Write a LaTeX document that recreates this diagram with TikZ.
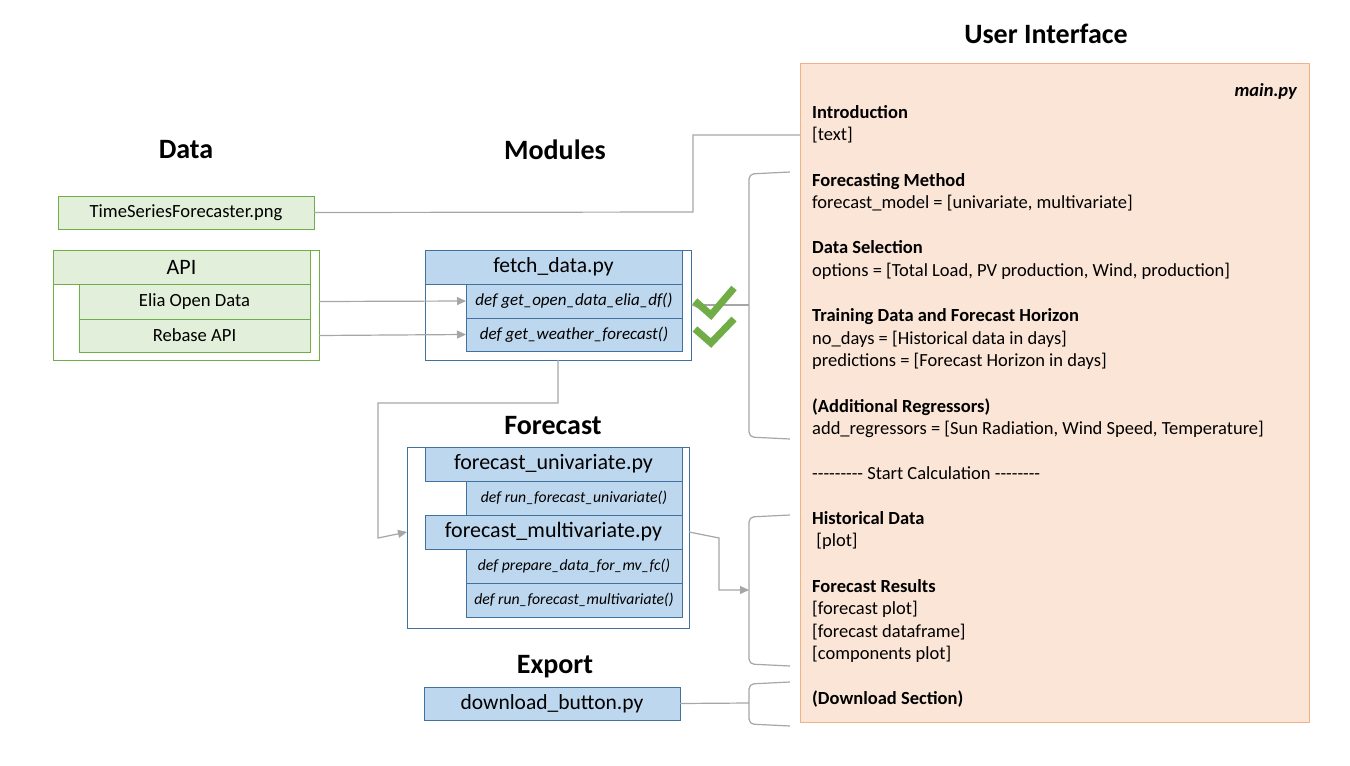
\documentclass[tikz,border=0pt]{standalone}
\usepackage{fontspec}
\setmainfont{Carlito}
\usetikzlibrary{arrows.meta,calc}
\definecolor{gfill}{HTML}{E2EFDA}
\definecolor{gline}{HTML}{70AD47}
\definecolor{bfill}{HTML}{BDD7EE}
\definecolor{bline}{HTML}{41719C}
\definecolor{ofill}{HTML}{FBE5D6}
\definecolor{oline}{HTML}{F4B183}
\definecolor{conncol}{HTML}{A6A6A6}
\definecolor{checkcol}{HTML}{70AD47}
\newcommand{\dashes}[1]{\foreach \i in {1,...,#1}{-\kern0pt}}
\begin{document}
\begin{tikzpicture}[x=1pt,y=-1pt,
  base/.style={inner sep=0pt, outer sep=0pt, anchor=north west, line width=1pt, align=center},
  gbox/.style={base, draw=gline, fill=gfill},
  gframe/.style={base, draw=gline},
  bbox/.style={base, draw=bline, fill=bfill},
  bframe/.style={base, draw=bline},
  uibox/.style={base, draw=oline, fill=ofill},
  title/.style={anchor=base, inner sep=0pt, font=\fontsize{28}{32}\selectfont\bfseries},
  uitext/.style={anchor=base west, inner sep=0pt, font=\fontsize{18.5}{22}\selectfont},
  uihead/.style={uitext, font=\fontsize{18.5}{22}\selectfont\bfseries},
  conn/.style={draw=conncol, line width=1.2pt},
  arr/.style={-{Triangle[length=9pt,width=8pt]}},
  brk/.style={draw=conncol, line width=1.2pt, rounded corners=5pt},
  checkmark/.style={draw=checkcol, line width=7pt}
]
\useasboundingbox (0,0) rectangle (1350,766);

% titles
\node[title] (tUI) at (1046,43) {User Interface};
\node[title] (tData) at (186,158) {Data};
\node[title] (tMod) at (555,159) {Modules};
\node[title] (tFc) at (553,434) {Forecast};
\node[title] (tEx) at (555,673) {Export};

% data
\node[gbox, minimum width=256, minimum height=33, font=\fontsize{18.6}{22}\selectfont] (tsf) at (58,196) {TimeSeriesForecaster.png};
\node[gframe, minimum width=266, minimum height=110] (apiframe) at (53,250) {};
\node[gbox, minimum width=257, minimum height=34, font=\fontsize{22}{26}\selectfont] (api) at (53,250) {API};
\node[gbox, minimum width=231, minimum height=35, font=\fontsize{18.6}{22}\selectfont] (elia) at (79,284) {Elia Open Data};
\node[gbox, minimum width=231, minimum height=33, font=\fontsize{18.6}{22}\selectfont] (rebase) at (79,319) {Rebase API};

% modules
\node[bframe, minimum width=266, minimum height=110] (fetchframe) at (425,250) {};
\node[bbox, minimum width=257, minimum height=34, font=\fontsize{21.6}{26}\selectfont] (fetch) at (425,250) {fetch\_data.py};
\node[bbox, minimum width=216, minimum height=34, font=\fontsize{17}{20}\selectfont\itshape] (getelia) at (466,284) {def get\_open\_data\_elia\_df()};
\node[bbox, minimum width=216, minimum height=33, font=\fontsize{17}{20}\selectfont\itshape] (getweather) at (466,318) {def get\_weather\_forecast()};

% forecast
\node[bframe, minimum width=282, minimum height=181] (fcframe) at (407,447) {};
\node[bbox, minimum width=257, minimum height=34, font=\fontsize{22}{26}\selectfont] (funi) at (425,447) {forecast\_univariate.py};
\node[bbox, minimum width=216, minimum height=34, font=\fontsize{15.7}{18}\selectfont\itshape] (rununi) at (466,481) {def run\_forecast\_univariate()};
\node[bbox, minimum width=257, minimum height=34, font=\fontsize{22}{26}\selectfont] (fmv) at (425,515) {forecast\_multivariate.py};
\node[bbox, minimum width=216, minimum height=34, font=\fontsize{15.7}{18}\selectfont\itshape] (prep) at (466,549) {def prepare\_data\_for\_mv\_fc()};
\node[bbox, minimum width=216, minimum height=34, font=\fontsize{15.7}{18}\selectfont\itshape] (runmv) at (466,583) {def run\_forecast\_multivariate()};

% export
\node[bbox, minimum width=256, minimum height=33, font=\fontsize{21.5}{25}\selectfont] (dl) at (424,687) {download\_button.py};

% user interface panel
\node[uibox, minimum width=509, minimum height=659] (ui) at (800,63) {};
\node[anchor=base east, inner sep=0pt, font=\fontsize{18.5}{22}\selectfont\bfseries\itshape] (mainpy) at (1297,96) {main.py};
\node[uihead] (l1) at (812,118) {Introduction};
\node[uitext] (l2) at (812,140) {[text]};
\node[uihead] (l3) at (812,186) {Forecasting Method};
\node[uitext] (l4) at (812,208) {forecast\_model = [univariate, multivariate]};
\node[uihead] (l5) at (812,253) {Data Selection};
\node[uitext] (l6) at (812,276) {options = [Total Load, PV production, Wind, production]};
\node[uihead] (l7) at (812,321) {Training Data and Forecast Horizon};
\node[uitext] (l8) at (812,344) {no\_days = [Historical data in days]};
\node[uitext] (l9) at (812,366) {predictions = [Forecast Horizon in days]};
\node[uihead] (l10) at (812,412) {(Additional Regressors)};
\node[uitext] (l11) at (812,434) {add\_regressors = [Sun Radiation, Wind Speed, Temperature]};
\node[uitext] (l12) at (812,479) {{-}{-}{-}{-}{-}{-}{-}{-}{-} Start Calculation {-}{-}{-}{-}{-}{-}{-}{-}};
\node[uihead] (l13) at (812,524) {Historical Data};
\node[uitext] (l14) at (812,546) {\ [plot]};
\node[uihead] (l15) at (812,592) {Forecast Results};
\node[uitext] (l16) at (812,614) {[forecast plot]};
\node[uitext] (l17) at (812,637) {[forecast dataframe]};
\node[uitext] (l18) at (812,659) {[components plot]};
\node[uihead] (l19) at (812,704) {(Download Section)};

% brackets
\coordinate (b1mid) at (749,305);
\coordinate (b2mid) at (749,590);
\coordinate (b3mid) at (749,703);
\draw[brk] (790,172) -- (749,174) -- (749,437) -- (790,439);
\draw[brk] (790,515) -- (749,517) -- (749,664) -- (790,666);
\draw[brk] (790,682) -- (749,684) -- (749,724) -- (790,726);

% connectors
\draw[conn] (tsf.east) -- (693,212) |- (800,135);
\draw[conn, arr] (apiframe.east |- elia.east) -- (getelia.west);
\draw[conn, arr] (apiframe.east |- rebase.east) -- (getweather.west);
\draw[conn, arr] (b1mid) -- (fetchframe.east |- b1mid);
\draw[conn, arr] (fetchframe.south) -- (558,403) -- (378,403) -- (378,538) -- (fcframe.west |- fmv.east);
\draw[conn, arr] (fcframe.east |- fmv.east) -- (719,538) -- (719,590) -- (b2mid);
\draw[conn] (dl.east) -- (b3mid);

% check marks
\draw[checkmark] (695,301) -- (711,315) -- (734,288);
\draw[checkmark] (695,329) -- (711,343) -- (734,319);
\end{tikzpicture}
\end{document}
